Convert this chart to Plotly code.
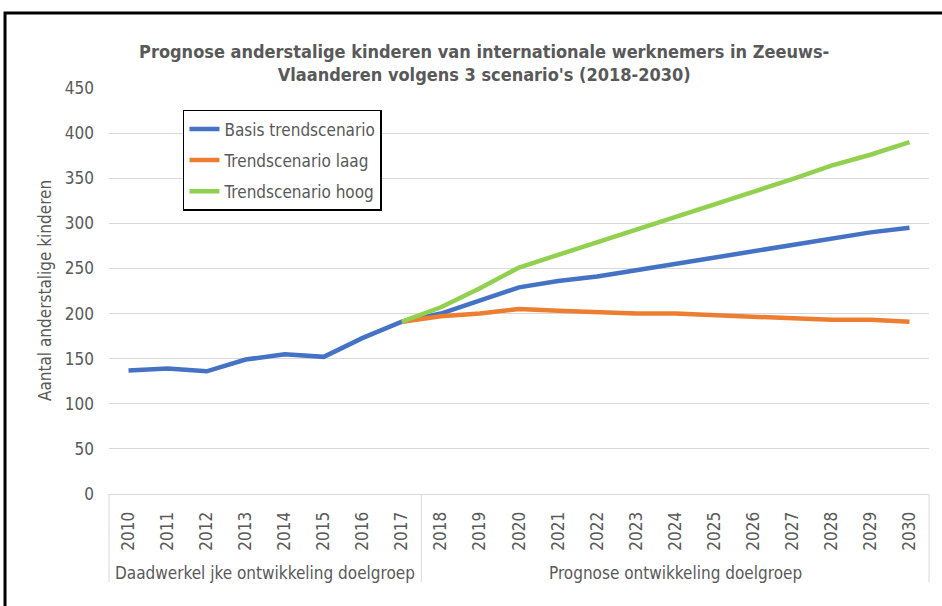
import plotly.graph_objects as go

years = [str(y) for y in range(2010, 2031)]
basis = [137, 139, 136, 149, 155, 152, 173, 191, 200, 214, 229, 236, 241, 248, 255, 262, 269, 277, 284, 290, 295]
proj_years = [str(y) for y in range(2017, 2031)]
laag = [191, 197, 200, 205, 203, 201, 200, 200, 198, 196, 194, 193, 193, 191]
hoog = [191, 207, 228, 251, 265, 279, 293, 307, 320, 335, 349, 364, 376, 390]
series_names = ["Basis trendscenario", "Trendscenario laag", "Trendscenario hoog"]
groups = ["Daadwerkel jke ontwikkeling doelgroep", "Prognose ontwikkeling doelgroep"]
group_sizes = [8, 13]
y_ticks = list(range(0, 451, 50))

FONT = "Liberation Sans Narrow, DejaVu Sans Condensed, Arial Narrow, sans-serif"
TXT = "#595959"

fig = go.Figure()
fig.add_trace(go.Scatter(x=years, y=basis, mode="lines", name=series_names[0],
                         line=dict(color="#4472C4", width=4.5), legendgroup="a"))
fig.add_trace(go.Scatter(x=proj_years, y=laag, mode="lines", name=series_names[1],
                         line=dict(color="#ED7D31", width=4.5), legendgroup="b"))
fig.add_trace(go.Scatter(x=proj_years, y=hoog, mode="lines", name=series_names[2],
                         line=dict(color="#92D050", width=4.5), legendgroup="c"))

n = len(years)
shapes = []
annotations = []
# frame around whole chart
shapes.append(dict(type="rect", xref="paper", yref="paper", x0=-0.1268, x1=1.2,
                   y0=-0.6, y1=1.185, line=dict(color="black", width=3)))
# category group dividers
pos = 0
bounds = [0]
for s in group_sizes:
    pos += s
    bounds.append(pos)
for b in bounds:
    shapes.append(dict(type="line", xref="paper", yref="paper", x0=b / n, x1=b / n,
                       y0=0, y1=-0.217, line=dict(color="#D9D9D9", width=1)))
for i, g in enumerate(groups):
    cx = (bounds[i] + bounds[i + 1]) / 2 / n
    annotations.append(dict(text=g, xref="paper", yref="paper", x=cx, y=-0.195,
                            showarrow=False, font=dict(family=FONT, size=17, color=TXT),
                            xanchor="center", yanchor="middle"))
annotations.append(dict(text="Aantal anderstalige kinderen", xref="paper", yref="paper",
                        x=-0.078, y=0.5, textangle=-90, showarrow=False,
                        font=dict(family=FONT, size=17, color=TXT),
                        xanchor="center", yanchor="middle"))

fig.update_layout(
    width=942, height=606,
    margin=dict(l=109, r=13, t=88, b=112),
    paper_bgcolor="white", plot_bgcolor="white",
    font=dict(family=FONT, color=TXT, size=17),
    title=dict(text="<b>Prognose anderstalige kinderen van internationale werknemers in Zeeuws-<br>Vlaanderen volgens 3 scenario's (2018-2030)</b>",
               x=0.514, xref="container", xanchor="center",
               y=1 - 57.5 / 606, yref="container", yanchor="middle",
               font=dict(family=FONT, size=18, color=TXT)),
    xaxis=dict(type="category", categoryorder="array", categoryarray=years,
               range=[-0.5, n - 0.5], tickangle=-90, showgrid=False,
               showline=True, linecolor="#D9D9D9", linewidth=1, ticks="",
               tickfont=dict(family=FONT, size=17, color=TXT), ticklabelstandoff=10),
    yaxis=dict(range=[0, 450], tickvals=y_ticks, showgrid=True, gridcolor="#D9D9D9",
               gridwidth=1, zeroline=False, showline=False, ticks="",
               tickfont=dict(family=FONT, size=17, color=TXT), ticklabelstandoff=14),
    legend=dict(x=0.0902, y=0.946, xanchor="left", yanchor="top",
                bordercolor="black", borderwidth=1.5, bgcolor="white",
                font=dict(family=FONT, size=17, color=TXT), tracegroupgap=6,
                traceorder="grouped"),
    shapes=shapes, annotations=annotations,
)

fig.write_html("out.html", config={"displayModeBar": False},
               post_script="document.body.style.margin='0';")
